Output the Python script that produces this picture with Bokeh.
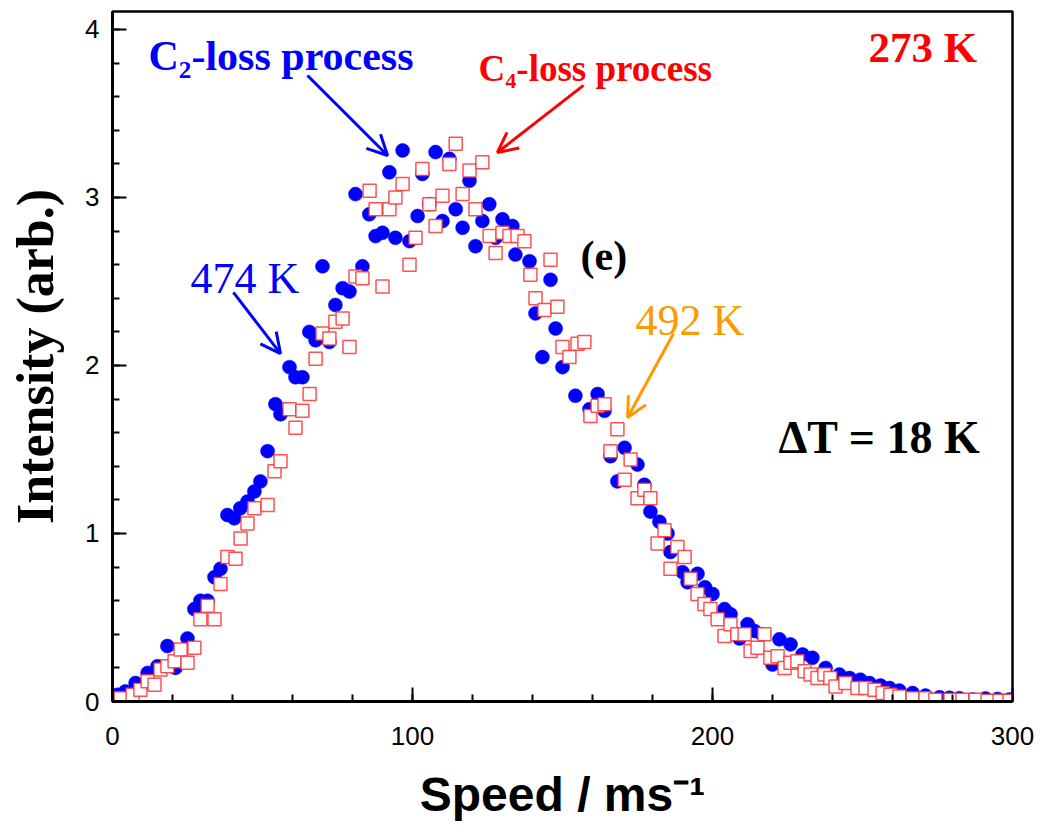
from bokeh.plotting import figure
from bokeh.models import Range1d, SingleIntervalTicker, Arrow, OpenHead
from bokeh.core.properties import value
from bokeh.embed import file_html
from bokeh.resources import INLINE

# C2-loss process (474 K), blue filled circles
blue_x = [1.7, 4.3, 7.7, 11.7, 15, 18.3, 21, 25, 27.3, 29.3, 31.7, 34, 36, 38.3, 40.6, 42.6, 45, 47.3,
          49.3, 51.7, 54.3, 56, 59, 61, 63.3, 65.6, 67.7, 70, 72.3, 74.3, 76.7, 79, 81, 83.3, 85.6,
          87.7, 90, 92.3, 94.3, 96.7, 99, 101.7, 103.3, 105.6, 107.7, 110, 112.3, 114.4, 116.7, 119,
          121, 123.3, 125.6, 127.7, 130, 133.3, 134.3, 139, 141, 143.3, 146, 147.7, 150, 154.3, 159,
          161.7, 164, 166, 168.3, 170.7, 175, 177.3, 179.3, 182.3, 185, 186, 190, 191.7, 195, 197.5,
          200, 204, 206, 209, 211.7, 214, 216.5, 220, 222.3, 226, 230, 233.3, 237.7, 242.3, 245.7,
          249.3, 252.3, 256, 259, 262.3, 266.7, 271, 275.7, 279, 282.3, 286.7, 291, 295, 299]
blue_y = [0.04, 0.06, 0.11, 0.17, 0.21, 0.33, 0.2, 0.375, 0.55, 0.6, 0.6, 0.74, 0.79, 1.11, 1.09, 1.15,
          1.19, 1.25, 1.31, 1.49, 1.77, 1.71, 1.99, 1.93, 1.93, 2.2, 2.15, 2.59, 2.14, 2.36, 2.46, 2.44,
          3.02, 2.59, 2.9, 2.77, 2.79, 3.15, 2.76, 3.28, 2.74, 2.89, 3.14, 2.96, 3.27, 2.86, 3.23, 2.93,
          2.82, 3.1, 2.71, 2.86, 2.96, 2.76, 2.87, 2.83, 2.66, 2.62, 2.31, 2.05, 2.51, 2.22, 1.99, 1.82,
          1.74, 1.83, 1.73, 1.46, 1.31, 1.51, 1.41, 1.29, 1.13, 1.07, 1.0, 0.89, 0.77, 0.71, 0.76, 0.68,
          0.64, 0.55, 0.52, 0.375, 0.46, 0.42, 0.4, 0.22, 0.37, 0.34, 0.28, 0.26, 0.2, 0.16, 0.14,
          0.13, 0.11, 0.095, 0.08, 0.065, 0.05, 0.035, 0.025, 0.022, 0.02, 0.012, 0.018, 0.015, 0.012]

# C4-loss process (492 K), red open squares
red_x = [1.7, 2.7, 6.7, 9.3, 11.7, 14, 16, 18.3, 20.7, 22.7, 25, 27.3, 29.3, 31.7, 34, 36, 38.3, 41,
         42.7, 45, 47.3, 51.7, 54, 56, 59, 61, 63.3, 65.7, 67.7, 70, 72.3, 74.3, 76.7, 79, 81, 83.3,
         85.7, 87.7, 90, 92.3, 94.3, 96.7, 99, 101, 103.3, 105.6, 107.7, 110, 112.3, 114.4, 116.7, 119,
         121, 123.3, 125.7, 127.7, 130, 132.3, 135, 137.3, 139.3, 141, 144, 146, 148.3, 150, 152.3, 155,
         157.3, 159.3, 161.7, 164, 166, 168.3, 170.7, 172.7, 175, 177.3, 179.3, 181.7, 184, 186, 188.3,
         190.7, 192.7, 195, 197.3, 199.3, 201.7, 204, 206, 208.3, 210.7, 212.7, 215, 217.3, 219.3,
         221.7, 224, 226, 228.3, 230.7, 232.7, 235, 237.3, 239.3, 241, 244.3, 248.3, 251, 254, 256.7,
         259.3, 262.3, 266.7, 271, 274.3, 279.3, 283.3, 287.7, 291.7, 295.7, 299]
red_y = [0.02, 0.02, 0.04, 0.07, 0.12, 0.1, 0.19, 0.21, 0.24, 0.31, 0.23, 0.32, 0.49, 0.57, 0.49, 0.7,
         0.86, 0.85, 0.97, 1.06, 1.15, 1.17, 1.37, 1.43, 1.74, 1.63, 1.73, 1.83, 2.04, 2.19, 2.16, 2.26,
         2.28, 2.11, 2.53, 2.52, 3.04, 2.93, 2.47, 2.93, 3.0, 3.08, 2.6, 2.76, 3.17, 2.96, 2.83, 3.01,
         3.2, 3.32, 3.02, 3.16, 2.93, 3.21, 2.77, 2.67, 2.79, 2.77, 2.77, 2.74, 2.54, 2.4, 2.33, 2.63,
         2.35, 2.11, 2.05, 2.13, 2.14, 1.7, 1.76, 1.77, 1.49, 1.62, 1.32, 1.44, 1.21, 1.26, 1.21, 0.94,
         1.02, 0.79, 0.92, 0.86, 0.73, 0.64, 0.58, 0.55, 0.49, 0.39, 0.46, 0.4, 0.4, 0.3, 0.32, 0.4,
         0.26, 0.27, 0.2, 0.23, 0.24, 0.18, 0.16, 0.14, 0.16, 0.14, 0.09, 0.11, 0.08, 0.08, 0.07, 0.05,
         0.04, 0.03, 0.02, 0.02, 0.01, 0.01, 0.01, 0.01, 0.005, 0.005, 0.005]

x_ticks_interval = 100
y_ticks_interval = 1

SERIF = value("Liberation Serif")
SANS = "Liberation Sans"

p = figure(width=1036, height=832, output_backend="svg", toolbar_location=None,
           x_range=Range1d(0, 300), y_range=Range1d(0, 4.107),
           min_border_left=112, min_border_top=11, min_border_right=24, min_border_bottom=131)
p.background_fill_color = "white"
p.border_fill_color = "white"
p.outline_line_color = "black"
p.outline_line_width = 2.5
p.xgrid.visible = False
p.ygrid.visible = False

p.xaxis.ticker = SingleIntervalTicker(interval=x_ticks_interval, num_minor_ticks=5)
p.yaxis.ticker = SingleIntervalTicker(interval=y_ticks_interval, num_minor_ticks=5)
for ax in (p.xaxis[0], p.yaxis[0]):
    ax.axis_line_width = 3
    ax.axis_line_color = "black"
    ax.major_tick_in = 14
    ax.major_tick_out = 0
    ax.minor_tick_in = 7
    ax.minor_tick_out = 0
    ax.major_tick_line_width = 2
    ax.minor_tick_line_width = 2
    ax.major_label_text_font = SANS
    ax.major_label_text_font_size = "26px"
    ax.major_label_text_color = "black"

p.xaxis.major_label_standoff = 25
p.yaxis.major_label_standoff = 13

p.xaxis.axis_label = "Speed / ms\u207b\u00b9"
p.xaxis.axis_label_text_font = SANS
p.xaxis.axis_label_text_font_style = "bold"
p.xaxis.axis_label_text_font_size = "48px"
p.xaxis.axis_label_text_color = "black"
p.xaxis.axis_label_standoff = 20

p.yaxis.axis_label = "Intensity (arb.)"
p.yaxis.axis_label_text_font = "Liberation Serif"
p.yaxis.axis_label_text_font_style = "bold"
p.yaxis.axis_label_text_font_size = "52px"
p.yaxis.axis_label_text_color = "black"
p.yaxis.axis_label_standoff = 18

p.scatter(blue_x, blue_y, marker="circle", size=14, fill_color="#0000ff", line_color="#0000ff",
          line_width=0.5)
p.scatter(red_x, red_y, marker="square", size=13, fill_color="white", line_color="#ff3333",
          line_alpha=0.85, line_width=1.5)

# annotations
def label(x, y, txt, color, size, bold=True, font=SERIF):
    p.text(x=[x], y=[y], text=[txt], text_color=color, text_font=font,
           text_font_size=size, text_font_style="bold" if bold else "normal",
           text_baseline="middle", text_align="left")

label(12.0, 3.845, "C\u2082-loss process", "#0000ff", "42px")
label(122.0, 3.77, "C\u2084-loss process", "#ff0000", "37px")
label(252.0, 3.89, "273 K", "#ff0000", "43px")
label(26.0, 2.52, "474 K", "#0000ff", "44px", bold=False)
label(174.3, 2.27, "492 K", "#ff9900", "44px", bold=False)
label(156.0, 2.65, "(e)", "black", "42px")
label(222.0, 1.57, "\u0394T = 18 K", "black", "46px")

for (x0, y0, x1, y1, c) in [(65.0, 3.726, 91.7, 3.25, "#0000ff"),
                            (157.0, 3.667, 128.3, 3.268, "#ff0000"),
                            (40.3, 2.435, 56.0, 2.071, "#0000ff"),
                            (187.0, 2.19, 171.7, 1.69, "#ff9900")]:
    p.add_layout(Arrow(x_start=x0, y_start=y0, x_end=x1, y_end=y1, line_color=c, line_width=3,
                       end=OpenHead(size=20, line_color=c, line_width=3)))

open("out.html", "w").write(file_html(p, INLINE))
